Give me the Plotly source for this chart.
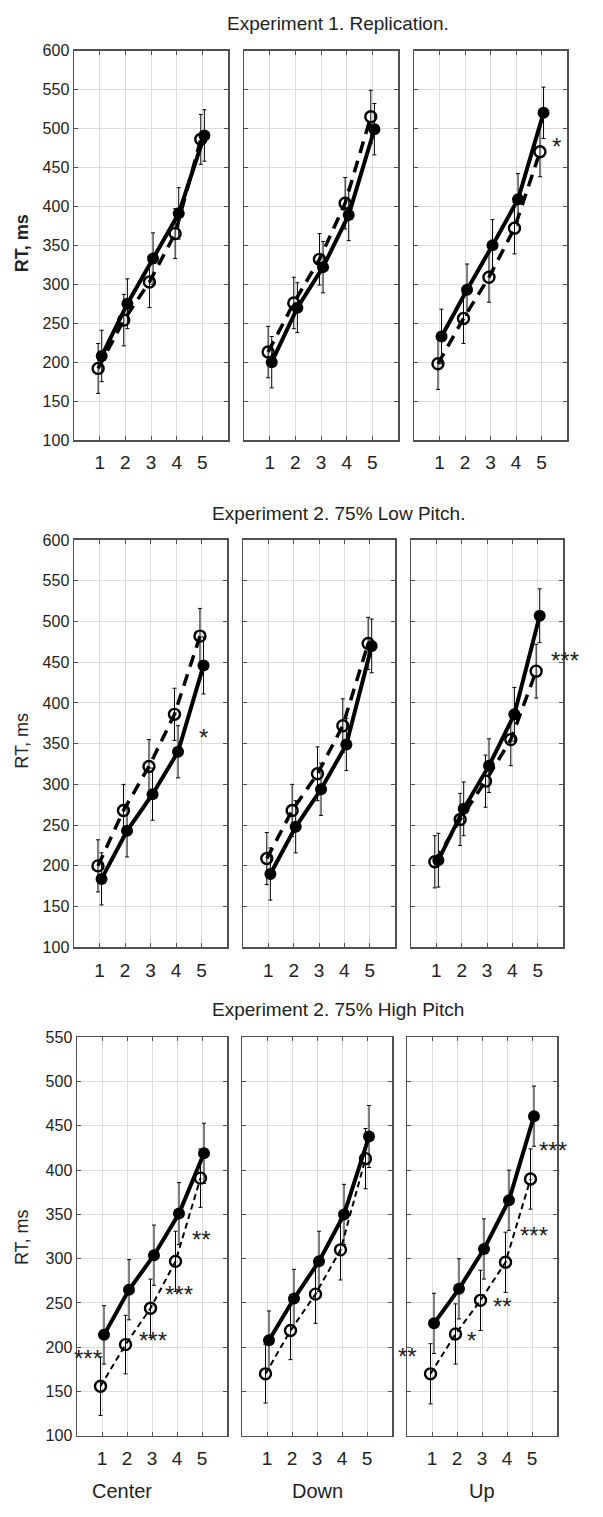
import plotly.graph_objects as go

# ---------------- data ----------------
x_levels = [1, 2, 3, 4, 5]
panel_names = ["Center", "Down", "Up"]
row_titles = ["Experiment 1. Replication.",
              "Experiment 2. 75% Low Pitch.",
              "Experiment 2. 75% High Pitch"]

# Experiment 1 (Center, Down, Up)
exp1_filled = [[208, 275, 333, 391, 491],
               [200, 270, 322, 389, 499],
               [233, 293, 350, 409, 520]]
exp1_open = [[192, 254, 303, 365, 486],
             [213, 276, 332, 404, 515],
             [198, 256, 309, 372, 470]]
exp1_filled_err = [[33, 32, 33, 33, 33],
                   [33, 32, 33, 33, 33],
                   [35, 33, 33, 33, 33]]
exp1_open_err = [[32, 33, 33, 32, 32],
                 [33, 33, 33, 33, 34],
                 [33, 32, 32, 33, 32]]

# Experiment 2, 75% low pitch
low_filled = [[184, 243, 288, 340, 446],
              [190, 248, 294, 349, 470],
              [207, 270, 323, 386, 507]]
low_open = [[200, 268, 322, 386, 482],
            [209, 268, 313, 372, 473],
            [205, 257, 304, 355, 439]]
low_filled_err = [[32, 32, 32, 32, 35],
                  [32, 32, 32, 32, 33],
                  [33, 33, 33, 33, 33]]
low_open_err = [[32, 32, 33, 32, 34],
                [32, 32, 33, 33, 32],
                [32, 32, 32, 32, 33]]

# Experiment 2, 75% high pitch
high_filled = [[214, 265, 304, 351, 419],
               [208, 255, 297, 350, 438],
               [227, 266, 311, 366, 461]]
high_open = [[156, 203, 244, 297, 391],
             [170, 219, 260, 310, 413],
             [170, 215, 253, 296, 390]]
high_filled_err = [[33, 34, 34, 35, 34],
                   [33, 33, 34, 34, 35],
                   [34, 34, 34, 34, 34]]
high_open_err = [[33, 33, 33, 34, 33],
                 [33, 33, 33, 34, 34],
                 [34, 34, 34, 34, 34]]

y_ranges = [[100, 600], [100, 600], [100, 550]]

# significance marks: (row, panel, x, y, text)
signif = [
    (0, 2, 5.57, 485, "*"),
    (1, 0, 5.06, 365, "*"),
    (1, 2, 6.00, 460, "***"),
    (2, 0, 0.44, 194, "***"),
    (2, 0, 3.03, 214, "***"),
    (2, 0, 4.09, 266, "***"),
    (2, 0, 4.99, 328, "**"),
    (2, 2, 0.00, 196, "**"),
    (2, 2, 2.59, 214, "*"),
    (2, 2, 3.81, 253, "**"),
    (2, 2, 5.09, 333, "***"),
    (2, 2, 5.83, 429, "***"),
]

rows_data = [
    (exp1_filled, exp1_open, exp1_filled_err, exp1_open_err),
    (low_filled, low_open, low_filled_err, low_open_err),
    (high_filled, high_open, high_filled_err, high_open_err),
]

# ---------------- layout geometry (page pixels) ----------------
W, H = 603, 1517

def px_x(v):
    return v / W

def px_y(v):
    return 1 - v / H

x_px = [[(74, 228), (244, 398), (414, 567)],
        [(74, 227), (243, 395), (411, 563)],
        [(77, 227), (242, 392), (407, 557)]]
y_px = [(43, 437), (538, 950), (1041, 1444)]
title_y = [16, 511, 1013]
ylab_y = [238, 741, 1243]
cat_x = [122, 317, 482]

FONT = "Liberation Sans, Arial, sans-serif"
TXT = "#222222"

fig = go.Figure()
layout = {}
annotations = []

off_f, off_o = 0.08, -0.06

for r in range(3):
    filled, opened, ferr, oerr = rows_data[r]
    for c in range(3):
        idx = r * 3 + c + 1
        xa = "x" if idx == 1 else f"x{idx}"
        ya = "y" if idx == 1 else f"y{idx}"
        if r < 2:
            dash, dw = "12px,8px", 3.5
        else:
            dash, dw = "6px,4px", 2
        fig.add_trace(go.Scatter(
            x=[v + off_o for v in x_levels], y=opened[c],
            mode="lines+markers", xaxis=xa, yaxis=ya,
            line=dict(color="black", width=dw, dash=dash),
            marker=dict(symbol="circle-open", size=11, color="black",
                        line=dict(width=2.4, color="black")),
            error_y=dict(type="data", array=oerr[c], color="black",
                         thickness=1, width=2),
            showlegend=False, cliponaxis=False, hoverinfo="skip"))
        fig.add_trace(go.Scatter(
            x=[v + off_f for v in x_levels], y=filled[c],
            mode="lines+markers", xaxis=xa, yaxis=ya,
            line=dict(color="black", width=4),
            marker=dict(symbol="circle", size=12, color="black"),
            error_y=dict(type="data", array=ferr[c], color="black",
                         thickness=1, width=2),
            showlegend=False, cliponaxis=False, hoverinfo="skip"))

        x0, x1 = x_px[r][c]
        y0, y1 = y_px[r]
        kx = "xaxis" if idx == 1 else f"xaxis{idx}"
        ky = "yaxis" if idx == 1 else f"yaxis{idx}"
        layout[kx] = dict(
            domain=[px_x(x0), px_x(x1)], anchor=ya, range=[0, 6],
            tickvals=x_levels, ticktext=[str(v) for v in x_levels],
            showgrid=True, gridcolor="#dcdcdc", gridwidth=1,
            showline=True, linecolor="#505050", linewidth=1.5, mirror="ticks",
            ticks="inside", ticklen=4, tickcolor="#505050",
            tickfont=dict(size=19, color=TXT, family=FONT),
            ticklabelstandoff=5, zeroline=False, fixedrange=True)
        layout[ky] = dict(
            domain=[px_y(y1), px_y(y0)], anchor=xa, range=y_ranges[r],
            dtick=50, showgrid=True, gridcolor="#dcdcdc", gridwidth=1,
            showline=True, linecolor="#505050", linewidth=1.5, mirror="ticks",
            ticks="inside", ticklen=4, tickcolor="#505050",
            showticklabels=(c == 0),
            tickfont=dict(size=16, color=TXT, family=FONT),
            zeroline=False, fixedrange=True)

    # row title
    annotations.append(dict(
        text=row_titles[r], xref="paper", yref="paper",
        x=px_x(338), y=px_y(title_y[r]), xanchor="center", yanchor="middle",
        showarrow=False, font=dict(size=19, color=TXT, family=FONT)))
    # y axis label
    ylab = "<b>RT, ms</b>" if r == 0 else "RT, ms"
    annotations.append(dict(
        text=ylab, xref="paper", yref="paper",
        x=px_x(22), y=px_y(ylab_y[r]),
        xanchor="center", yanchor="middle", textangle=-90,
        showarrow=False, font=dict(size=18, color=TXT, family=FONT)))

for (r, c, sx, sy, s) in signif:
    idx = r * 3 + c + 1
    xa = "x" if idx == 1 else f"x{idx}"
    ya = "y" if idx == 1 else f"y{idx}"
    annotations.append(dict(
        text=s, xref=xa, yref=ya, x=sx, y=sy, xanchor="center", yanchor="middle",
        yshift=-6, xshift=(2 if sx >= 6 else 0),
        showarrow=False, font=dict(size=24, color=TXT, family=FONT)))

# category labels under the bottom row
for c, name in enumerate(panel_names):
    annotations.append(dict(
        text=name, xref="paper", yref="paper",
        x=px_x(cat_x[c]), y=px_y(1500), xanchor="center", yanchor="middle",
        showarrow=False, font=dict(size=20, color=TXT, family=FONT)))

fig.update_layout(
    width=W, height=H, margin=dict(l=0, r=0, t=0, b=0),
    paper_bgcolor="white", plot_bgcolor="white",
    font=dict(family=FONT, color=TXT), hovermode=False,
    annotations=annotations, **layout)

# remove the default 8px body margin so the figure fills the window exactly
fig.write_html("out.html",
               config={"displayModeBar": False, "staticPlot": True},
               post_script="document.body.style.margin='0';"
                           "document.body.style.overflow='hidden';")
